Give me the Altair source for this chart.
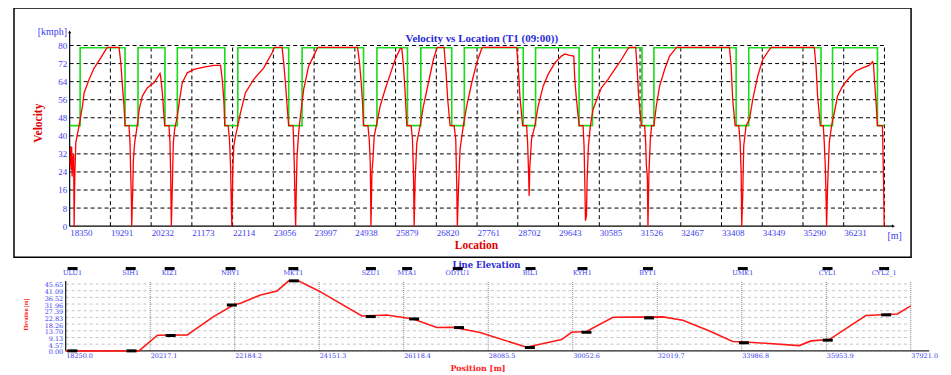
import altair as alt
import pandas as pd

# ---------------- Velocity vs Location (top panel) ----------------
# (location m, velocity kmph)
velocity_points = [
    (18361, 27), (18373, 35.5), (18384, 25), (18396, 35), (18407, 22), (18424, 30), (18442, 32), (18453, 0),
    (18469, 22), (18492, 37), (18532, 41), (18568, 44.5), (18607, 48.8), (18646, 53.2), (18684, 59), (18799, 65),
    (18915, 70), (19069, 74.5), (19185, 78.2), (19224, 79.2), (19492, 79.2), (19531, 72.3), (19570, 62), (19606, 53.2),
    (19629, 44.5), (19721, 44.5), (19744, 37), (19760, 23.7), (19776, 12), (19783, 0), (19806, 15), (19822, 29.6),
    (19852, 37), (19887, 41.4), (19921, 46), (19957, 51.7), (20030, 57.6), (20146, 61.3), (20298, 63.5), (20437, 67.6),
    (20453, 66.2), (20492, 59), (20529, 48.8), (20545, 44.5), (20644, 44.5), (20667, 37), (20683, 23.7), (20699, 0),
    (20722, 17.8), (20745, 37), (20775, 42.9), (20838, 48.8), (20890, 56), (20952, 63.5), (21068, 67.9), (21220, 69.4),
    (21451, 70.4), (21681, 71.2), (21836, 71.2), (21875, 65), (21911, 56), (21934, 44.5), (22012, 44.5), (22042, 38.5),
    (22066, 26.7), (22082, 12), (22096, 0), (22119, 25.2), (22142, 35.5), (22181, 39.9), (22234, 44.5), (22296, 50.2),
    (22411, 59.1), (22603, 65), (22834, 70.1), (23028, 76.8), (23065, 78.6), (23088, 79.2), (23258, 79.2), (23295, 72.3),
    (23334, 63.5), (23373, 53.2), (23410, 44.5), (23511, 44.5), (23525, 37), (23541, 25.2), (23557, 9), (23571, 0),
    (23587, 17.8), (23603, 31), (23640, 41.4), (23680, 48.8), (23756, 60.6), (23871, 70.9), (23986, 75.3), (24065, 78.6),
    (24095, 79.2), (25000, 79.2), (25046, 72.3), (25085, 63.5), (25116, 54.7), (25139, 44.5), (25240, 44.5), (25270, 38.5),
    (25294, 28.1), (25301, 17.8), (25310, 0), (25333, 23.7), (25356, 29.6), (25386, 39.9), (25448, 45.8), (25523, 53.2),
    (25639, 60.6), (25754, 67.2), (25869, 73.8), (25985, 78.6), (26024, 78.6), (26061, 70.9), (26100, 59.1), (26139, 44.5),
    (26238, 44.5), (26269, 38.5), (26292, 23.7), (26308, 0), (26331, 20.8), (26370, 37), (26446, 44.5), (26522, 53.2),
    (26638, 63.5), (26752, 73.8), (26830, 78.6), (26850, 79.2), (26999, 79.2), (27045, 67.9), (27084, 56), (27138, 44.5),
    (27230, 44.5), (27269, 38.5), (27292, 17.8), (27306, 0), (27329, 14.9), (27368, 34), (27444, 44.5), (27522, 53.2),
    (27638, 63.5), (27753, 72.3), (27868, 78.6), (27898, 79.2), (28675, 79.2), (28712, 70.9), (28751, 57.6), (28813, 44.5),
    (28905, 44.5), (28929, 37), (28951, 23.7), (28965, 13.4), (28981, 26.7), (29020, 38.5), (29097, 44.5), (29173, 53.2),
    (29288, 62), (29403, 67.2), (29558, 72.3), (29712, 75.3), (29789, 76.3), (29904, 75.6), (29996, 75.3), (30019, 65),
    (30058, 56), (30119, 44.5), (30210, 44.5), (30233, 35.5), (30249, 20.8), (30265, 2.4), (30288, 4.6), (30302, 19.3),
    (30334, 35.5), (30380, 44.5), (30440, 51.7), (30556, 57.6), (30634, 61.3), (30786, 65), (30941, 69.4), (31096, 73.8),
    (31247, 78.6), (31286, 79.2), (31425, 79.2), (31455, 70.9), (31494, 57.6), (31556, 44.5), (31632, 44.5), (31656, 37),
    (31672, 27), (31695, 22), (31709, 0), (31732, 23.7), (31764, 38.5), (31794, 44.5), (31847, 44.5), (31902, 53.2),
    (31978, 62), (32094, 69.4), (32209, 75.3), (32347, 78.6), (32371, 79.2), (33591, 79.2), (33630, 70.9), (33667, 56),
    (33723, 44.5), (33806, 44.5), (33839, 37), (33862, 23.7), (33875, 0), (33898, 13.4), (33921, 35.5), (33976, 44.5),
    (34053, 47.3), (34129, 56), (34244, 66.4), (34360, 73.8), (34530, 78.6), (34561, 79.2), (35551, 79.2), (35591, 70.9),
    (35628, 57.6), (35690, 44.5), (35759, 44.5), (35782, 37), (35805, 26.7), (35821, 14.9), (35836, 0), (35859, 17.8),
    (35898, 37), (35951, 44.5), (36013, 50.2), (36089, 57.6), (36204, 62), (36358, 65.7), (36513, 68.7), (36665, 70.1),
    (36819, 71.2), (36896, 72.8), (36919, 71.7), (36942, 64.4), (36974, 56), (37011, 44.5), (37126, 44.5), (37150, 22.2),
    (37166, 0),
]

# speed limit (green) breakpoints, step-after
limit_x = [18350, 18592, 19629, 19929, 20552, 20837, 21934, 22234, 23410, 23719, 25139, 25448, 26153, 26462,
           27176, 27467, 28828, 29113, 30118, 30427, 31570, 31847, 33746, 34037, 35706, 35973, 37010, 37172]
limit_v = [44.5, 79, 44.5, 79, 44.5, 79, 44.5, 79, 44.5, 79, 44.5, 79, 44.5, 79,
           44.5, 79, 44.5, 79, 44.5, 79, 44.5, 79, 44.5, 79, 44.5, 79, 44.5, 44.5]

loc_ticks = [18350, 19291, 20232, 21173, 22114, 23056, 23997, 24938, 25879, 26820, 27761, 28702, 29643,
             30585, 31526, 32467, 33408, 34349, 35290, 36231]
loc_grid = loc_ticks[1:] + [37172]
speed_ticks = [0, 8, 16, 24, 32, 40, 48, 56, 64, 72, 80]

# ---------------- Line Elevation (bottom panel) ----------------
elev_x = [18250, 19957, 20385, 21081, 21692, 22157, 22319, 22784, 23172, 23441, 23667, 24131, 25146, 25727,
          26338, 26888, 27267, 27894, 28979, 29792, 30024, 30372, 30990, 32151, 32616, 33236, 33777, 34165,
          35326, 35598, 36023, 36875, 37609, 37921]
elev_y = [0, 0, 10.7, 10.9, 23.4, 31.3, 32.5, 38.2, 40.9, 47.8, 47.8, 41.1, 23.8, 24.5,
          21.8, 15.9, 16.1, 12.5, 2.5, 7.7, 12.7, 13.2, 22.9, 23.2, 20.9, 13.6, 6.4, 5.9,
          3.6, 6.8, 7.7, 24.1, 25.2, 30.7]

stations = ["ULU1", "SIH1", "KIZ1", "NBY1", "MKT1", "SZU1", "MTA1", "ODTU1", "BIL1", "KYH1", "BYT1",
            "UMK1", "CYL1", "CYL2_1"]
station_x = [18410, 19764, 20670, 22087, 23550, 25355, 26198, 27376, 29071, 30279, 31803, 34010, 35984, 37301]
platform_x = [18406, 19783, 20693, 22117, 23562, 25351, 26361, 27406, 29055, 30372, 31831, 34038, 35988, 37347]
platform_elev = [0, 0, 10.5, 31.3, 47.8, 23.4, 21.8, 15.9, 2.3, 12.7, 22.5, 5.5, 7.3, 24.6]

pos_ticks = [18250.0, 20217.1, 22184.2, 24151.3, 26118.4, 28085.5, 30052.6, 32019.7, 33986.8, 35953.9, 37921.0]
elev_ticks = [0, 4.57, 9.13, 13.70, 18.26, 22.83, 27.39, 31.96, 36.52, 41.09, 45.65]

# ---------------- styling ----------------
BLUE = "#3c3cf0"
TBLUE = "#2a2ad8"
RED = "#e00000"
SERIF = "Liberation Serif"
WIDE = "DejaVu Serif"

# ================= top chart =================
XT = alt.Scale(domain=[17064, 37787], nice=False, zero=False)
YT = alt.Scale(domain=[-13.83, 96.66], nice=False, zero=False)

vel_df = pd.DataFrame({"x": [p[0] for p in velocity_points],
                       "v": [p[1] for p in velocity_points]})
vel_df["i"] = range(len(vel_df))
lim_df = pd.DataFrame({"x": limit_x, "v": limit_v})
lim_df["i"] = range(len(lim_df))

hgrid_df = pd.DataFrame({"v": speed_ticks[1:]})
hgrid_df["x0"] = loc_ticks[0]
hgrid_df["x1"] = loc_grid[-1]
vgrid_df = pd.DataFrame({"x": loc_grid})
vgrid_df["v0"] = speed_ticks[0]
vgrid_df["v1"] = speed_ticks[-1]

axis_df = pd.DataFrame({"x0": [18350, 18350], "x1": [18350, 37380], "v0": [0, 0], "v1": [86, 0]})
arrow_df = pd.DataFrame({"x": [18350, 37380], "v": [86, 0], "s": ["triangle-up", "triangle-right"]})

hgrid = alt.Chart(hgrid_df).mark_rule(color="black", strokeDash=[4, 3], strokeWidth=1).encode(
    x=alt.X("x0:Q", scale=XT, axis=None),
    x2="x1:Q",
    y=alt.Y("v:Q", scale=YT, axis=alt.Axis(
        orient="left", offset=-55.8, values=speed_ticks, format="d", domain=False, ticks=False, grid=False,
        labelColor=BLUE, labelFont=SERIF, labelFontSize=9, labelPadding=3, labelOverlap=False,
        title="Velocity", titleColor=RED, titleFont=SERIF, titleFontSize=11.5, titleFontWeight="bold",
        titleAngle=270, titleX=-31.3, titleY=115, titleAlign="center", titleBaseline="middle")),
)

vgrid = alt.Chart(vgrid_df).mark_rule(color="black", strokeDash=[4, 3], strokeWidth=1).encode(
    x=alt.X("x:Q", scale=XT, axis=alt.Axis(
        orient="bottom", offset=-31.3, values=loc_ticks, format="d", domain=False, ticks=False, grid=False,
        labelAlign="left", labelBaseline="top", labelPadding=2, labelColor=BLUE, labelFont=SERIF,
        labelFontSize=9, labelFlush=False, labelOverlap=False,
        title="Location", titleColor=RED, titleFont=SERIF, titleFontSize=11.5, titleFontWeight="bold",
        titleX=463, titleY=19.7, titleAlign="center", titleBaseline="middle")),
    y=alt.Y("v0:Q", scale=YT, axis=None),
    y2="v1:Q",
)

axes_top = alt.Chart(axis_df).mark_rule(color="black", strokeWidth=1.2).encode(
    x=alt.X("x0:Q", scale=XT, axis=None), x2="x1:Q",
    y=alt.Y("v0:Q", scale=YT, axis=None), y2="v1:Q",
)
arrows_top = alt.Chart(arrow_df).mark_point(filled=True, color="black", size=10, opacity=1).encode(
    x=alt.X("x:Q", scale=XT, axis=None),
    y=alt.Y("v:Q", scale=YT, axis=None),
    shape=alt.Shape("s:N", scale=None),
)

# the chart heading is carried by a top axis whose title is placed inside the frame
limit_line = alt.Chart(lim_df).mark_line(color="#18dc18", strokeWidth=1.6, interpolate="step-after").encode(
    x=alt.X("x:Q", scale=XT, axis=alt.Axis(
        orient="top", labels=False, ticks=False, domain=False, grid=False,
        title="Velocity vs Location (T1 (09:00))", titleColor=TBLUE, titleFont=SERIF, titleFontSize=11,
        titleFontWeight="bold", titleX=468.3, titleY=31, titleAlign="center", titleBaseline="middle")),
    y=alt.Y("v:Q", scale=YT, axis=None),
    order="i:Q",
)

vel_line = alt.Chart(vel_df).mark_line(color="#ff0000", strokeWidth=1.3).encode(
    x=alt.X("x:Q", scale=XT, axis=alt.Axis(
        orient="bottom", labels=False, ticks=False, domain=False, grid=False,
        title="[m]", titleColor=BLUE, titleFont=SERIF, titleFontSize=10, titleFontWeight="normal",
        titleX=882, titleY=-22.3, titleAlign="center", titleBaseline="middle")),
    y=alt.Y("v:Q", scale=YT, axis=alt.Axis(
        orient="left", labels=False, ticks=False, domain=False, grid=False,
        title="[kmph]", titleColor=BLUE, titleFont=SERIF, titleFontSize=10, titleFontWeight="normal",
        titleAngle=0, titleX=38, titleY=24, titleAlign="center", titleBaseline="middle")),
    order="i:Q",
)

top = alt.layer(hgrid, vgrid, axes_top, arrows_top, limit_line, vel_line).resolve_axis(
    x="independent", y="independent"
).properties(
    width=899, height=250,
    view=alt.ViewBackground(stroke="black", strokeWidth=1.5),
)

# ================= bottom chart =================
XB = alt.Scale(domain=[17047, 38462], nice=False, zero=False)
YB = alt.Scale(domain=[0, 61.8], nice=False, zero=False)

elev_df = pd.DataFrame({"x": elev_x, "e": elev_y})
elev_df["i"] = range(len(elev_df))
st_df = pd.DataFrame({"name": stations, "sx": station_x, "px": platform_x, "pe": platform_elev})
ehgrid_df = pd.DataFrame({"e": elev_ticks[1:]})
ehgrid_df["x0"] = pos_ticks[0]
ehgrid_df["x1"] = pos_ticks[-1]
evgrid_df = pd.DataFrame({"x": pos_ticks[1:]})
evgrid_df["e0"] = 0
evgrid_df["e1"] = 47.7
eaxis_df = pd.DataFrame({"x0": [18250, 18250], "x1": [18250, 38350], "e0": [0, 0], "e1": [47.7, 0]})

ehgrid = alt.Chart(ehgrid_df).mark_rule(color="#c4c4c4", strokeDash=[3, 3], strokeWidth=1).encode(
    x=alt.X("x0:Q", scale=XB, axis=None), x2="x1:Q",
    y=alt.Y("e:Q", scale=YB, axis=alt.Axis(
        orient="left", offset=-51.8, values=elev_ticks, format=".2f", domain=False, ticks=False, grid=False,
        labelColor=BLUE, labelFont=WIDE, labelFontSize=6.5, labelPadding=3, labelOffset=1, labelOverlap=False,
        title="Elevation [m]", titleColor="#ff2020", titleFont=SERIF, titleFontSize=5.5, titleFontWeight="bold",
        titleAngle=270, titleX=-39.8, titleY=54, titleAlign="center", titleBaseline="middle")),
)

evgrid = alt.Chart(evgrid_df).mark_rule(color="#8a8a8a", strokeDash=[1, 1], strokeWidth=1).encode(
    x=alt.X("x:Q", scale=XB, axis=alt.Axis(
        orient="bottom", values=pos_ticks, format=".1f", domain=False, ticks=False, grid=False,
        labelAlign="left", labelBaseline="top", labelPadding=1.5, labelColor=BLUE, labelFont=WIDE,
        labelFontSize=6.5, labelFlush=False, labelOverlap=False,
        title="Position [m]", titleColor="#ff2020", titleFont=WIDE, titleFontSize=8, titleFontWeight="bold",
        titleX=464.5, titleY=17.3, titleAlign="center", titleBaseline="middle")),
    y=alt.Y("e0:Q", scale=YB, axis=None), y2="e1:Q",
)

eaxes = alt.Chart(eaxis_df).mark_rule(color="#222222", strokeWidth=1.3).encode(
    x=alt.X("x0:Q", scale=XB, axis=None), x2="x1:Q",
    y=alt.Y("e0:Q", scale=YB, axis=None), y2="e1:Q",
)

elev_line = alt.Chart(elev_df).mark_line(color="#ff1a1a", strokeWidth=1.6).encode(
    x=alt.X("x:Q", scale=XB, axis=alt.Axis(
        orient="top", labels=False, ticks=False, domain=False, grid=False,
        title="Line Elevation", titleColor=TBLUE, titleFont=WIDE, titleFontSize=8.5, titleFontWeight="bold",
        titleX=473, titleY=4, titleAlign="center", titleBaseline="middle")),
    y=alt.Y("e:Q", scale=YB, axis=None),
    order="i:Q",
)

platforms = alt.Chart(st_df).mark_tick(orient="horizontal", size=10, thickness=3, color="black", opacity=1).encode(
    x=alt.X("px:Q", scale=XB, axis=None),
    y=alt.Y("pe:Q", scale=YB, axis=None),
)

top_bars = alt.Chart(st_df).mark_tick(orient="horizontal", size=10, thickness=3, color="black", opacity=1).encode(
    x=alt.X("sx:Q", scale=XB, axis=None),
    y=alt.value(8.2),
)

st_labels = alt.Chart(st_df).mark_text(font=WIDE, fontSize=6.5, color=BLUE, baseline="middle", align="center").encode(
    x=alt.X("sx:Q", scale=XB, axis=None),
    y=alt.value(12.8),
    text="name:N",
)

bottom = alt.layer(ehgrid, evgrid, eaxes, elev_line, platforms, top_bars, st_labels).resolve_axis(
    x="independent", y="independent"
).properties(
    width=922, height=90.7,
    view=alt.ViewBackground(stroke="transparent", strokeWidth=0),
)

chart = alt.vconcat(top, bottom, spacing=2).properties(
    padding={"left": 5, "top": -1.5, "right": 5, "bottom": 0},
    background="white",
).configure_view(stroke="transparent")

chart.save("out.html", embed_options={"renderer": "svg", "actions": False})
